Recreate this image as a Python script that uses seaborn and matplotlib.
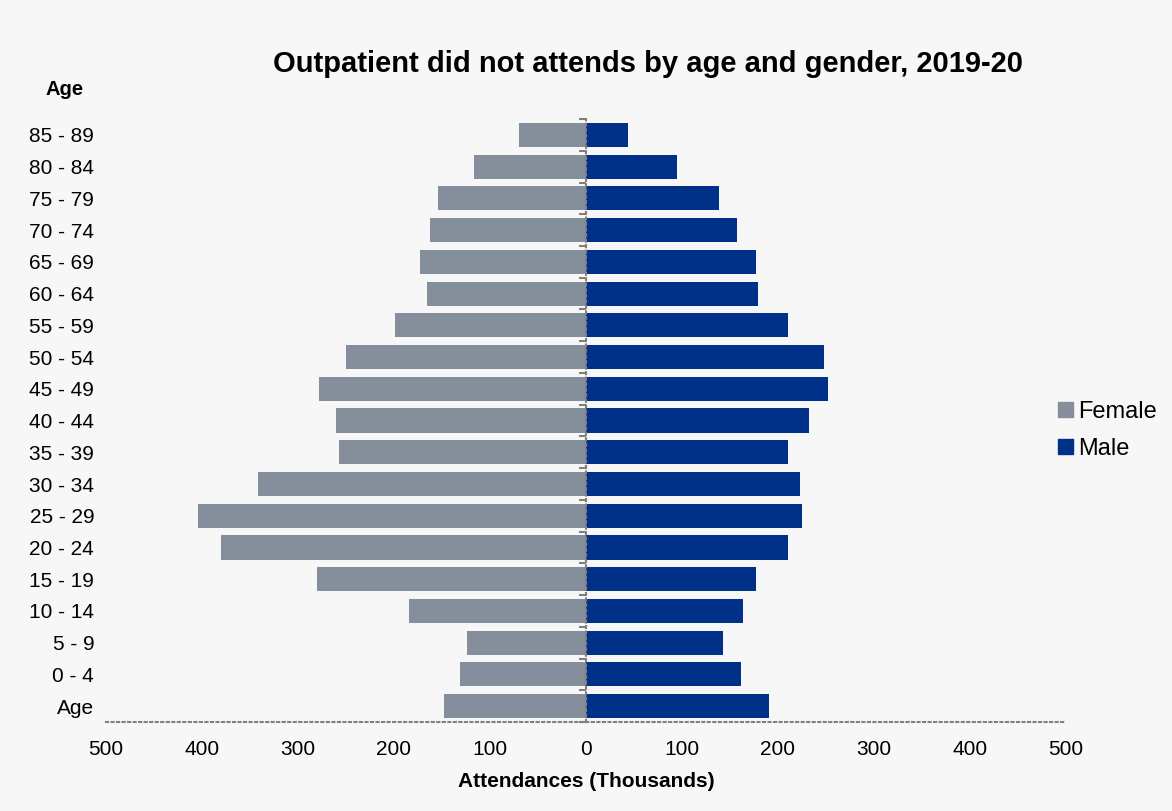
import pandas as pd
import numpy as np
import matplotlib.pyplot as plt
import seaborn as sns
from matplotlib.ticker import FixedLocator

# Age bands, top to bottom as drawn
age_groups = ["85 - 89", "80 - 84", "75 - 79", "70 - 74", "65 - 69", "60 - 64",
              "55 - 59", "50 - 54", "45 - 49", "40 - 44", "35 - 39", "30 - 34",
              "25 - 29", "20 - 24", "15 - 19", "10 - 14", "5 - 9", "0 - 4", "Age"]

# Did not attends, thousands
female = [70, 117, 154, 162, 173, 166, 199, 250, 278, 260, 257, 342,
          404, 380, 280, 184, 124, 131, 148]
male = [44, 95, 139, 157, 177, 179, 211, 248, 252, 232, 211, 223,
        225, 210, 177, 164, 143, 162, 191]

x_ticks = [-500, -400, -300, -200, -100, 0, 100, 200, 300, 400, 500]

BG = "#F7F7F7"
GREY = "#808080"
palette = {"Female": "#848F9B", "Male": "#003087"}

sns.set_style("white")
plt.rcParams['font.family'] = ['Liberation Sans', 'DejaVu Sans']
plt.rcParams['text.color'] = 'black'
plt.rcParams['xtick.color'] = 'black'
plt.rcParams['ytick.color'] = 'black'
plt.rcParams['axes.labelcolor'] = 'black'

df = pd.concat([
    pd.DataFrame({"Age": age_groups, "Value": [-v for v in female], "Gender": "Female"}),
    pd.DataFrame({"Age": age_groups, "Value": male, "Gender": "Male"}),
])

fig = plt.figure(figsize=(11.72, 8.11), dpi=100, facecolor=BG)
ax = fig.add_axes([0.0904, 0.1097, 0.8191, 0.7435], facecolor=BG)

sns.barplot(data=df, y="Age", x="Value", hue="Gender", order=age_groups,
            hue_order=["Female", "Male"], palette=palette, dodge=False,
            width=0.76, orient="h", saturation=1, linewidth=0, ax=ax, legend=False)

ax.set_xlim(-500, 500)
ax.set_ylim(len(age_groups) - 0.5, -0.5)
ax.set_xticks(x_ticks)
ax.set_xticklabels([str(abs(t)) for t in x_ticks])
ax.set_yticks(range(len(age_groups)))
ax.set_yticklabels(age_groups)
ax.yaxis.set_minor_locator(FixedLocator(np.arange(-0.5, len(age_groups), 1.0)))

ax.set_ylabel("")
ax.set_xlabel("Attendances (Thousands)", fontsize=15, fontweight="bold", labelpad=9)

# spines: bottom axis plus dotted centre line at zero
for s in ["top", "left"]:
    ax.spines[s].set_visible(False)
ax.spines["bottom"].set_color(GREY)
ax.spines["bottom"].set_linewidth(1.5)
ax.spines["bottom"].set_linestyle(":")
ax.spines["right"].set_position(("data", 0))
ax.spines["right"].set_color(GREY)
ax.spines["right"].set_linewidth(1.5)
ax.spines["right"].set_linestyle(":")
ax.spines["right"].set_zorder(5)

ax.tick_params(axis="x", which="major", direction="out", length=5, width=1.5,
               color=GREY, labelcolor="black", labelsize=15, pad=8)
ax.tick_params(axis="y", which="major", left=False, right=False, labelleft=True,
               labelright=False, labelcolor="black", labelsize=15, pad=5)
ax.tick_params(axis="y", which="minor", left=False, right=True, direction="in",
               length=5, width=1.5, color=GREY)

fig.text(0.553, 0.921, "Outpatient did not attends by age and gender, 2019-20",
         ha="center", va="center", fontsize=21, fontweight="bold")
fig.text(0.055, 0.890, "Age", ha="center", va="center", fontsize=14.5, fontweight="bold")

handles = [plt.Rectangle((0, 0), 1, 1, color=palette[g]) for g in ["Female", "Male"]]
fig.legend(handles, ["Female", "Male"], loc="center left",
           bbox_to_anchor=(0.885, 0.469), frameon=False, fontsize=17,
           handlelength=0.6, handleheight=0.6, handletextpad=0.25, labelspacing=0.65)

fig.savefig("out.png", dpi=100, facecolor=BG)
